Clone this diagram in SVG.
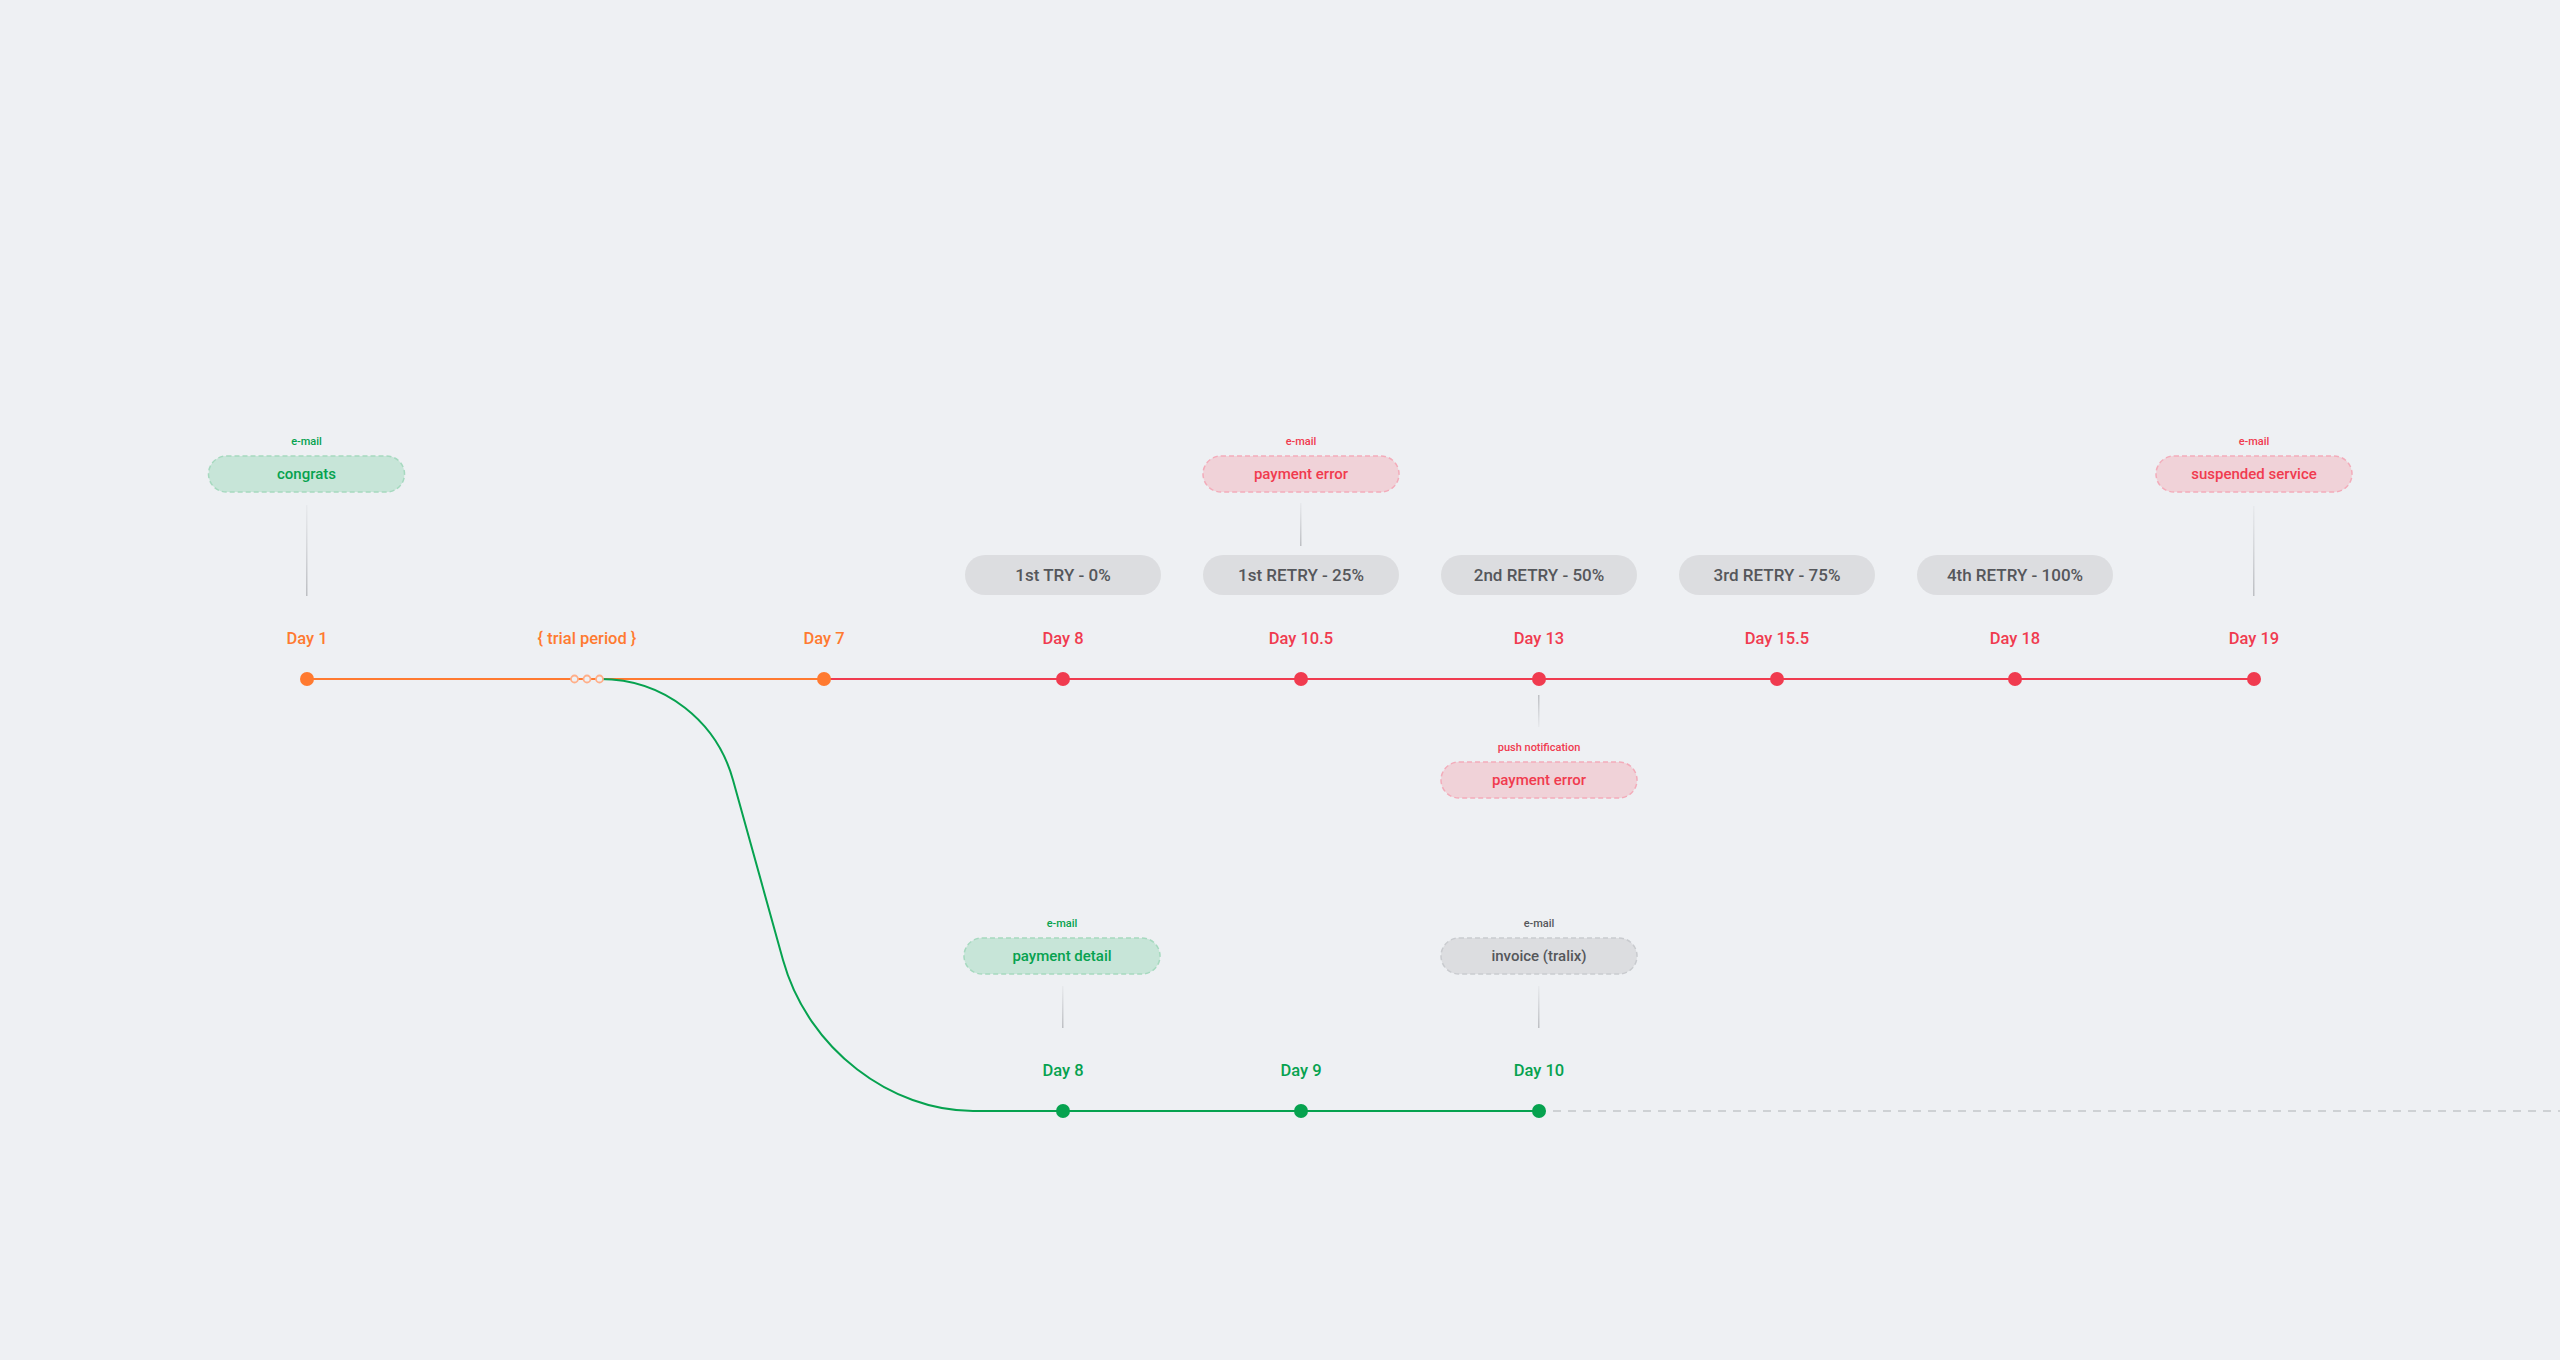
<svg xmlns="http://www.w3.org/2000/svg" width="2560" height="1360" viewBox="0 0 2560 1360">
<defs>
<linearGradient id="gDown" x1="0" y1="0" x2="0" y2="1">
<stop offset="0" stop-color="#C2C4C8" stop-opacity="0.15"/>
<stop offset="1" stop-color="#BDBFC3"/>
</linearGradient>
<linearGradient id="gUp" x1="0" y1="0" x2="0" y2="1">
<stop offset="0" stop-color="#BDBFC3"/>
<stop offset="1" stop-color="#C2C4C8" stop-opacity="0.15"/>
</linearGradient>
<style>
text{font-family:Roboto,"Liberation Sans",sans-serif;text-anchor:middle}
.day{font-size:16.5px;font-weight:500}
.o{fill:#FF7A30}.r{fill:#F03B4F}.g{fill:#06A24F}.k{fill:#55575B}
.small{font-size:11px;font-weight:500}
.pt{font-size:15px;font-weight:500}
.st{font-size:17px;font-weight:500}
.pg{fill:#C7E5D8;stroke:#A6D9BF;stroke-width:1.5;stroke-dasharray:5 3}
.pr{fill:#F0D2D8;stroke:#F3ACBA;stroke-width:1.5;stroke-dasharray:5 3}
.pk{fill:#DCDDE0;stroke:#C9CBCF;stroke-width:1.5;stroke-dasharray:5 3}
.ps{fill:#DCDDE0}
.dotO{fill:#FF7A30}.dotR{fill:#F03B4F}.dotG{fill:#06A24F}
</style>
</defs>
<rect width="2560" height="1360" fill="#EEF0F3"/>

<g id="connectors">
<line x1="307" y1="679" x2="824" y2="679" stroke="#FF7A30" stroke-width="2"/>
<line x1="824" y1="679" x2="2254" y2="679" stroke="#F03B4F" stroke-width="2"/>
<path d="M600 679 C665 679 717 722 733 780 L783 960 C808 1050 892 1111 973 1111 L1538 1111" fill="none" stroke="#06A24F" stroke-width="2"/>
<line x1="1538" y1="1111" x2="2560" y2="1111" stroke="#C4C6CA" stroke-width="1.5" stroke-dasharray="8 7"/>
<rect x="306" y="505" width="1.5" height="91" fill="url(#gDown)"/>
<rect x="1300" y="503" width="1.5" height="43" fill="url(#gDown)"/>
<rect x="2253" y="506" width="1.5" height="90" fill="url(#gDown)"/>
<rect x="1538" y="695" width="1.5" height="32" fill="url(#gUp)"/>
<rect x="1062" y="986" width="1.5" height="42" fill="url(#gDown)"/>
<rect x="1538" y="986" width="1.5" height="42" fill="url(#gDown)"/>
</g>

<g id="trial">
<text x="587" y="644" class="day o" font-weight="400">{ trial period }</text>
<circle cx="574.5" cy="679" r="3.5" fill="#EEF0F3" stroke="#FFAE88" stroke-width="1.8"/>
<circle cx="587" cy="679" r="3.5" fill="#EEF0F3" stroke="#FFAE88" stroke-width="1.8"/>
<circle cx="599.5" cy="679" r="3.5" fill="#EEF0F3" stroke="#FFAE88" stroke-width="1.8"/>
</g>

<g id="day1"><text x="307" y="644" class="day o">Day 1</text><circle cx="307" cy="679" r="7" class="dotO"/></g>
<g id="day7"><text x="824" y="644" class="day o">Day 7</text><circle cx="824" cy="679" r="7" class="dotO"/></g>
<g id="day8"><text x="1063" y="644" class="day r">Day 8</text><circle cx="1063" cy="679" r="7" class="dotR"/></g>
<g id="day10_5"><text x="1301" y="644" class="day r">Day 10.5</text><circle cx="1301" cy="679" r="7" class="dotR"/></g>
<g id="day13"><text x="1539" y="644" class="day r">Day 13</text><circle cx="1539" cy="679" r="7" class="dotR"/></g>
<g id="day15_5"><text x="1777" y="644" class="day r">Day 15.5</text><circle cx="1777" cy="679" r="7" class="dotR"/></g>
<g id="day18"><text x="2015" y="644" class="day r">Day 18</text><circle cx="2015" cy="679" r="7" class="dotR"/></g>
<g id="day19"><text x="2254" y="644" class="day r">Day 19</text><circle cx="2254" cy="679" r="7" class="dotR"/></g>

<g id="gday8"><text x="1063" y="1076" class="day g">Day 8</text><circle cx="1063" cy="1111" r="7" class="dotG"/></g>
<g id="gday9"><text x="1301" y="1076" class="day g">Day 9</text><circle cx="1301" cy="1111" r="7" class="dotG"/></g>
<g id="gday10"><text x="1539" y="1076" class="day g">Day 10</text><circle cx="1539" cy="1111" r="7" class="dotG"/></g>

<g id="card-congrats">
<text x="306.5" y="445" class="small g">e-mail</text>
<rect x="208.5" y="456" width="196" height="36" rx="18" class="pg"/>
<text x="306.5" y="479" class="pt g">congrats</text>
</g>
<g id="card-payment-error">
<text x="1301" y="445" class="small r">e-mail</text>
<rect x="1203" y="456" width="196" height="36" rx="18" class="pr"/>
<text x="1301" y="479" class="pt r">payment error</text>
</g>
<g id="card-suspended">
<text x="2254" y="445" class="small r">e-mail</text>
<rect x="2156" y="456" width="196" height="36" rx="18" class="pr"/>
<text x="2254" y="479" class="pt r">suspended service</text>
</g>

<g id="try1"><rect x="965" y="555" width="196" height="40" rx="20" class="ps"/><text x="1063" y="581" class="st k">1st TRY - 0%</text></g>
<g id="retry1"><rect x="1203" y="555" width="196" height="40" rx="20" class="ps"/><text x="1301" y="581" class="st k">1st RETRY - 25%</text></g>
<g id="retry2"><rect x="1441" y="555" width="196" height="40" rx="20" class="ps"/><text x="1539" y="581" class="st k">2nd RETRY - 50%</text></g>
<g id="retry3"><rect x="1679" y="555" width="196" height="40" rx="20" class="ps"/><text x="1777" y="581" class="st k">3rd RETRY - 75%</text></g>
<g id="retry4"><rect x="1917" y="555" width="196" height="40" rx="20" class="ps"/><text x="2015" y="581" class="st k">4th RETRY - 100%</text></g>

<g id="card-push">
<text x="1539" y="750.5" class="small r">push notification</text>
<rect x="1441" y="762" width="196" height="36" rx="18" class="pr"/>
<text x="1539" y="785" class="pt r">payment error</text>
</g>

<g id="card-payment-detail">
<text x="1062" y="927" class="small g">e-mail</text>
<rect x="964" y="938" width="196" height="36" rx="18" class="pg"/>
<text x="1062" y="961" class="pt g">payment detail</text>
</g>
<g id="card-invoice">
<text x="1539" y="927" class="small k">e-mail</text>
<rect x="1441" y="938" width="196" height="36" rx="18" class="pk"/>
<text x="1539" y="961" class="pt k">invoice (tralix)</text>
</g>
</svg>
